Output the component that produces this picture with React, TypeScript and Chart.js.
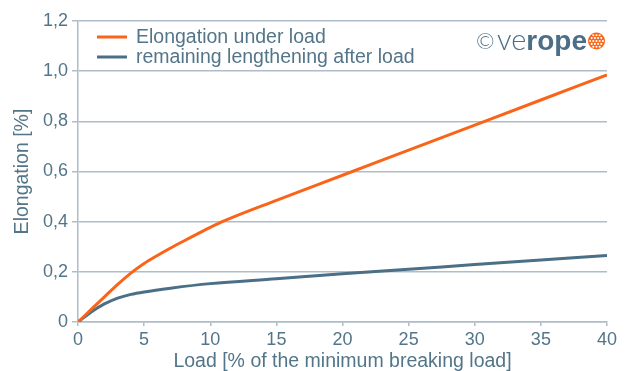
import React, { useEffect, useRef } from "react";
import { Chart, registerables } from "chart.js";

Chart.register(...registerables);

const loadX = [0, 1, 2, 3, 4, 5, 6, 7, 8, 9, 10, 11, 15, 20, 25, 30, 35, 40];
const elongationUnderLoad = [0, 0.05, 0.1, 0.15, 0.195, 0.233, 0.265, 0.295, 0.323, 0.35, 0.377, 0.402, 0.485, 0.585, 0.685, 0.785, 0.885, 0.985];
const remainingX = [0, 1, 2, 3, 4, 5, 7, 10, 15, 20, 25, 30, 35, 40];
const remainingLengthening = [0, 0.04, 0.072, 0.095, 0.11, 0.12, 0.135, 0.153, 0.172, 0.192, 0.21, 0.229, 0.247, 0.265];
const seriesLabels = ["Elongation under load", "remaining lengthening after load"];
const xTitle = "Load [% of the minimum breaking load]";
const yTitle = "Elongation [%]";

const ORANGE = "#fa6419";
const BLUE = "#4a6f86";
const TEXT = "#537589";
const GRID = "#aebdc9";
const FONT = "'Liberation Sans', Arial, Helvetica, sans-serif";

const overlayPlugin = {
  id: "overlay",
  afterDraw(chart: any) {
    const ctx = chart.ctx as CanvasRenderingContext2D;
    const area = chart.chartArea;
    ctx.save();
    // legend
    const colors = [ORANGE, BLUE];
    seriesLabels.forEach((label, i) => {
      const y = area.top + 16 + i * 20;
      ctx.strokeStyle = colors[i];
      ctx.lineWidth = 3;
      ctx.beginPath();
      ctx.moveTo(area.left + 19, y);
      ctx.lineTo(area.left + 49, y);
      ctx.stroke();
      ctx.fillStyle = TEXT;
      ctx.font = `19.5px ${FONT}`;
      ctx.textBaseline = "middle";
      ctx.textAlign = "left";
      ctx.fillText(label, area.left + 58, y + 1);
    });
    // logo
    const baseY = 50;
    let x = 476;
    ctx.fillStyle = BLUE;
    ctx.textBaseline = "alphabetic";
    ctx.font = `300 22px Lato, ${FONT}`;
    ctx.fillText("\u00A9", x, baseY - 1);
    x = 497;
    ctx.font = `300 29px Lato, ${FONT}`;
    ctx.fillText("ve", x, baseY);
    x += ctx.measureText("ve").width;
    ctx.font = `bold 28px ${FONT}`;
    ctx.fillText("rope", x, baseY);
    x += ctx.measureText("rope").width + 1;
    const r = 8.5;
    const cx = Math.max(x + r, 595);
    const cy = 41;
    ctx.beginPath();
    ctx.arc(cx, cy, r, 0, Math.PI * 2);
    ctx.fillStyle = ORANGE;
    ctx.fill();
    ctx.save();
    ctx.clip();
    ctx.fillStyle = "#ffffff";
    for (let i = -3; i <= 3; i++) {
      for (let j = -3; j <= 3; j++) {
        const px = cx + i * 3.2 + (j % 2 === 0 ? 0 : 1.6);
        const py = cy + j * 2.9;
        if ((px - cx) ** 2 + (py - cy) ** 2 > (r - 1) ** 2) continue;
        ctx.beginPath();
        ctx.arc(px, py, 1.05, 0, Math.PI * 2);
        ctx.fill();
      }
    }
    ctx.restore();
    ctx.restore();
  },
};

export default function App() {
  const ref = useRef<HTMLCanvasElement>(null);
  useEffect(() => {
    document.body.style.margin = "0";
    document.body.style.background = "#ffffff";
    const canvas = ref.current!;
    const chart = new Chart(canvas, {
      type: "line",
      data: {
        datasets: [
          {
            label: seriesLabels[0],
            data: loadX.map((x, i) => ({ x, y: elongationUnderLoad[i] })),
            borderColor: ORANGE,
            borderWidth: 3,
            pointRadius: 0,
            cubicInterpolationMode: "monotone",
            fill: false,
          },
          {
            label: seriesLabels[1],
            data: remainingX.map((x, i) => ({ x, y: remainingLengthening[i] })),
            borderColor: BLUE,
            borderWidth: 3,
            pointRadius: 0,
            cubicInterpolationMode: "monotone",
            fill: false,
          },
        ],
      },
      options: {
        animation: false,
        responsive: false,
        maintainAspectRatio: false,
        layout: { padding: { left: 0, top: 21, right: 19, bottom: 0 }, autoPadding: false },
        plugins: { legend: { display: false }, tooltip: { enabled: false } },
        scales: {
          x: {
            type: "linear",
            min: 0,
            max: 40,
            afterFit: (s: any) => { s.height = 49; },
            ticks: { stepSize: 5, color: TEXT, font: { size: 18, family: FONT }, padding: 3, maxRotation: 0 },
            grid: { drawOnChartArea: false, drawTicks: true, tickLength: 4, color: GRID, lineWidth: 1.5 },
            border: { display: true, color: GRID, width: 1.5 },
            title: { display: true, text: xTitle, color: TEXT, font: { size: 19.5, family: FONT }, padding: { top: 0, bottom: -2 } },
          },
          y: {
            min: 0,
            max: 1.2,
            afterFit: (s: any) => { s.width = 78; },
            ticks: {
              stepSize: 0.2,
              color: TEXT,
              font: { size: 18, family: FONT },
              padding: 4,
              callback: (v: any) => {
                const n = Number(v);
                if (Math.abs(n) < 1e-9) return "0";
                return n.toFixed(1).replace(".", ",");
              },
            },
            grid: { color: GRID, lineWidth: 1.5, tickLength: 6 },
            border: { display: true, color: GRID, width: 1.5 },
            title: { display: true, text: yTitle, color: TEXT, font: { size: 19.5, family: FONT }, padding: { top: 11, bottom: 0 } },
          },
        },
      },
      plugins: [overlayPlugin],
    });
    return () => chart.destroy();
  }, []);
  return (
    <div style={{ width: 626, height: 371, background: "#ffffff" }}>
      <canvas ref={ref} width={626} height={371} style={{ display: "block" }} />
    </div>
  );
}
